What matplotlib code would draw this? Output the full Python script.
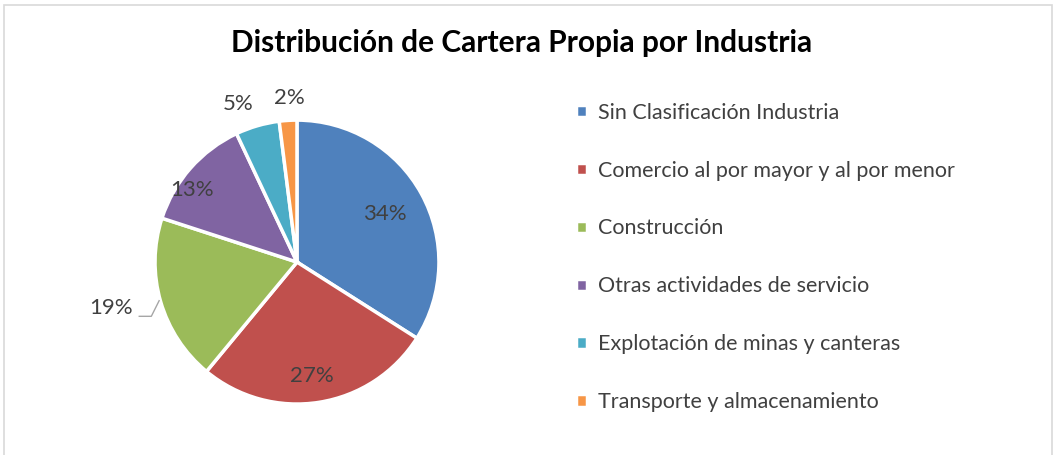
import numpy as np
import matplotlib.pyplot as plt
from matplotlib.patches import Rectangle

plt.rcParams['font.family'] = ['Lato', 'DejaVu Sans']

categories = ["Sin Clasificación Industria",
              "Comercio al por mayor y al por menor",
              "Construcción",
              "Otras actividades de servicio",
              "Explotación de minas y canteras",
              "Transporte y almacenamiento"]
shares = [34, 27, 19, 13, 5, 2]
colors = ["#4F81BD", "#C0504D", "#9BBB59", "#8064A2", "#4BACC6", "#F79646"]

# label placement (radius as fraction of pie radius, angle nudge in degrees)
label_dist = [0.71, 0.81, 1.35, 0.90, 1.19, 1.16]
label_nudge = [0, -1.5, -2.4, 7, 4, -1]

fig = plt.figure(figsize=(10.58, 4.55), dpi=100)
fig.patches.append(Rectangle((0.004, -0.01), 0.99, 1.0, transform=fig.transFigure,
                             fill=False, edgecolor="#d9d9d9", linewidth=1.2))

fig.text(0.493, 0.905, "Distribución de Cartera Propia por Industria",
         ha='center', va='center', fontsize=21.5, fontweight='bold', color='black')

ax = fig.add_axes([0.1465, 0.112, 0.2684, 0.624])
wedges, _ = ax.pie(shares, colors=colors, startangle=90, counterclock=False,
                   wedgeprops=dict(edgecolor='white', linewidth=2.5))
ax.set_xlim(-1, 1)
ax.set_ylim(-1, 1)
ax.set_aspect('equal')

for w, s, d, n in zip(wedges, shares, label_dist, label_nudge):
    ang = np.deg2rad((w.theta1 + w.theta2) / 2 + n)
    x, y = d * np.cos(ang), d * np.sin(ang)
    ax.text(x, y, f"{s}%", ha='center', va='center', fontsize=16,
            color='#404040', clip_on=False)

# leader line for the small green label
g = wedges[2]
ang = np.deg2rad((g.theta1 + g.theta2) / 2 + label_nudge[2])
lx, ly = label_dist[2] * np.cos(ang), label_dist[2] * np.sin(ang)
ax.plot([lx + 0.2, lx + 0.285, lx + 0.34], [ly - 0.06, ly - 0.06, ly + 0.05],
        color='#a6a6a6', linewidth=1, clip_on=False)

leg = fig.legend(wedges, categories, loc='upper left', bbox_to_anchor=(0.526, 0.817),
                 frameon=False, fontsize=15.5, labelcolor='#404040',
                 handlelength=0.5, handleheight=0.5, handletextpad=0.55,
                 labelspacing=1.76)

fig.savefig("out.png", dpi=100)
